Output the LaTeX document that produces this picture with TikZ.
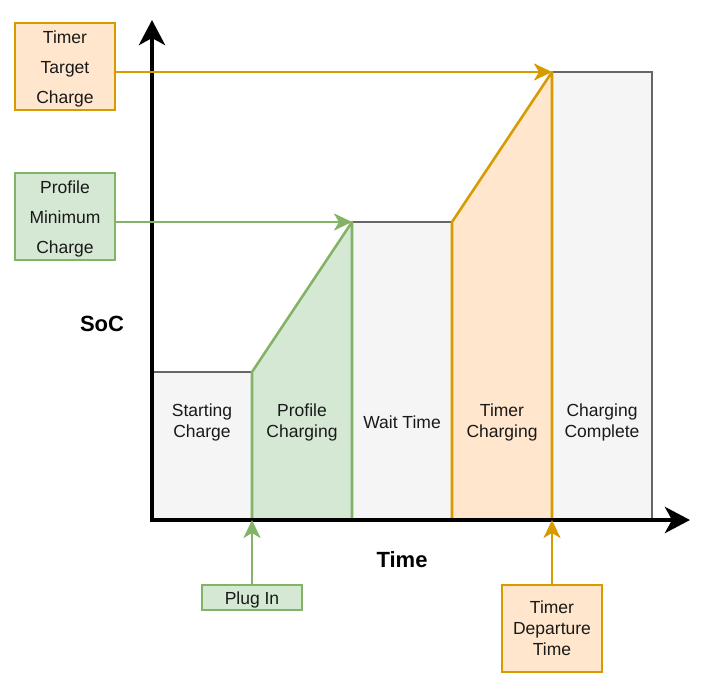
\documentclass[tikz,border=0pt]{standalone}
\usepackage{fontspec}
\setmainfont{Liberation Sans}
\usetikzlibrary{arrows.meta}
\definecolor{grayfill}{HTML}{F5F5F5}
\definecolor{graystroke}{HTML}{666666}
\definecolor{greenfill}{HTML}{D5E8D4}
\definecolor{greenstroke}{HTML}{82B366}
\definecolor{orangefill}{HTML}{FFE6CC}
\definecolor{orangestroke}{HTML}{D79B00}
\begin{document}
\begin{tikzpicture}[x=1pt,y=-1pt,
  lbl/.style={font=\fontsize{17.5}{21}\selectfont, align=center, text=black!90},
  gbox/.style={draw=greenstroke, fill=greenfill, line width=1.3pt, minimum width=100pt, inner sep=0pt},
  obox/.style={draw=orangestroke, fill=orangefill, line width=1.3pt, minimum width=100pt, inner sep=0pt},
  garrow/.style={draw=greenstroke, line width=2.8pt, -{Stealth[length=18pt,width=17pt,inset=5pt]}},
  oarrow/.style={draw=orangestroke, line width=2.8pt, -{Stealth[length=18pt,width=17pt,inset=5pt]}},
  axis/.style={line width=4.5pt, -{Stealth[length=25pt,width=26pt,inset=7pt]}}
]
\useasboundingbox (0,0) rectangle (703,698);
% segments
\draw[fill=grayfill, draw=graystroke, line width=2.2pt] (152,372) rectangle (252,520);
\draw[fill=grayfill, draw=graystroke, line width=2.2pt] (352,222) rectangle (452,520);
\draw[fill=grayfill, draw=graystroke, line width=2.2pt] (552,72) rectangle (652,520);
\draw[fill=greenfill, draw=greenstroke, line width=2.6pt, line join=round] (252,520) -- (252,372) -- (352,222) -- (352,520);
\draw[fill=orangefill, draw=orangestroke, line width=2.6pt, line join=round] (452,520) -- (452,222) -- (552,72) -- (552,520);
\coordinate (pmc) at (352,222);
\coordinate (ttc) at (552,72);
\coordinate (plugpt) at (252,520);
\coordinate (deppt) at (552,520);
\node[lbl] (sc) at (202,422) {Starting\\Charge};
\node[lbl] (pc) at (302,422) {Profile\\Charging};
\node[lbl] (wt) at (402,422) {Wait Time};
\node[lbl] (tc) at (502,422) {Timer\\Charging};
\node[lbl] (cc) at (602,422) {Charging\\Complete};
% axes
\draw[axis] (152,522) -- (152,20);
\draw[axis] (150,520) -- (690,520);
\node[font=\fontsize{22}{26}\selectfont\bfseries] (soc) at (102,324) {SoC};
\node[font=\fontsize{22}{26}\selectfont\bfseries] (time) at (402,560) {Time};
% side boxes
\node[obox, minimum height=87pt] (ttcbox) at (65,66.5) {};
\node[lbl, font=\fontsize{17.5}{30}\selectfont] (ttct) at (65,69) {Timer\\Target\\Charge};
\node[gbox, minimum height=87pt] (pmcbox) at (65,216.5) {};
\node[lbl, font=\fontsize{17.5}{30}\selectfont] (pmct) at (65,219) {Profile\\Minimum\\Charge};
\node[gbox, minimum height=25pt] (plug) at (252,597.5) {};
\node[lbl] (plugt) at (252,600) {Plug In};
\node[obox, minimum height=87pt] (dep) at (552,628.5) {};
\node[lbl] (dept) at (552,628.5) {Timer\\Departure\\Time};
% connectors
\draw[oarrow] (ttcbox.east |- ttc) -- (ttc);
\draw[garrow] (pmcbox.east |- pmc) -- (pmc);
\draw[garrow] (plug.north) -- (plugpt);
\draw[oarrow] (dep.north) -- (deppt);
\end{tikzpicture}
\end{document}
